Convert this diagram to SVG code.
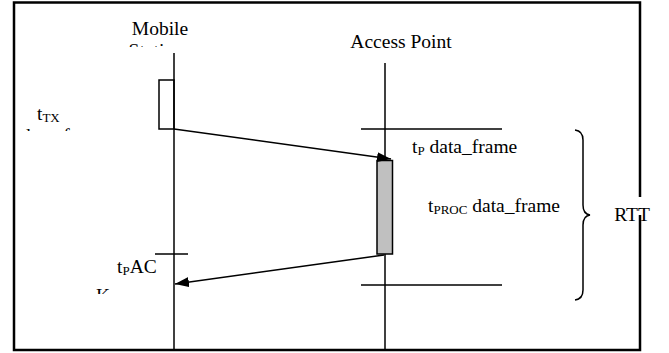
<svg xmlns="http://www.w3.org/2000/svg" width="669" height="353" viewBox="0 0 669 353">
<style>
.ln{stroke:#000;stroke-width:1.5;fill:none}
.t{font-family:"Liberation Serif","Times New Roman",serif;font-size:19.5px;fill:#000}
.s{font-size:13px}
</style>
<defs>
<marker id="ah" viewBox="0 0 14 10" refX="14" refY="5" markerWidth="14" markerHeight="10" markerUnits="userSpaceOnUse" orient="auto">
<path d="M0,0 L14,5 L0,10 Z" fill="#000"/>
</marker>
<clipPath id="c1"><rect x="90" y="38" width="120" height="9"/></clipPath>
<clipPath id="c2"><rect x="15" y="126" width="120" height="5"/></clipPath>
<clipPath id="c3"><rect x="90" y="288" width="60" height="6"/></clipPath>
</defs>
<rect id="frame" x="14" y="2.5" width="626" height="347.5" fill="#fff" stroke="none"/>
<g id="frame-lines" class="ln" style="stroke-width:2.5">
<path d="M640,197 V2.5 H14 V350 H640 V215"/>
</g>
<g id="mobile">
<text class="t" x="160" y="35" text-anchor="middle">Mobile</text>
<text class="t" x="160" y="57" text-anchor="middle" clip-path="url(#c1)">Stations</text>
<line class="ln" x1="174" y1="53" x2="174" y2="349"/>
<rect class="ln" x="159" y="80" width="15" height="49"/>
<line class="ln" x1="155" y1="254" x2="188" y2="254"/>
</g>
<g id="access-point">
<text class="t" x="401" y="48" text-anchor="middle">Access Point</text>
<line class="ln" x1="385" y1="63" x2="385" y2="349"/>
<rect x="377" y="160.5" width="15.5" height="93.5" fill="#c0c0c0" stroke="#000" stroke-width="1.5"/>
<line class="ln" x1="361" y1="129" x2="502" y2="129"/>
<line class="ln" x1="361" y1="285" x2="502" y2="285"/>
</g>
<g id="labels">
<text class="t" x="37" y="120">t<tspan class="s" dy="2">TX</tspan></text>
<text class="t" x="21" y="142" clip-path="url(#c2)">data_frame</text>
<text class="t" x="412" y="153">t<tspan class="s" dy="2">P</tspan><tspan dy="-2"> data_frame</tspan></text>
<text class="t" x="428" y="212">t<tspan class="s" dy="2">PROC</tspan><tspan dy="-2"> data_frame</tspan></text>
<text class="t" x="117" y="273">t<tspan class="s" dy="2">P</tspan><tspan dy="-2">AC</tspan></text>
<text class="t" x="96" y="302" clip-path="url(#c3)">K</text>
</g>
<g id="rtt">
<path class="ln" d="M575,130 Q583,131 583,140 L583,205 Q583,214 590,215 Q583,216 583,225 L583,290 Q583,299 575,300"/>
<text class="t" x="632" y="221" text-anchor="middle">RTT</text>
</g>
<g id="connectors" class="ln">
<line x1="174" y1="129" x2="391" y2="159" marker-end="url(#ah)"/>
<line x1="384" y1="255" x2="175" y2="284" marker-end="url(#ah)"/>
</g>
</svg>
